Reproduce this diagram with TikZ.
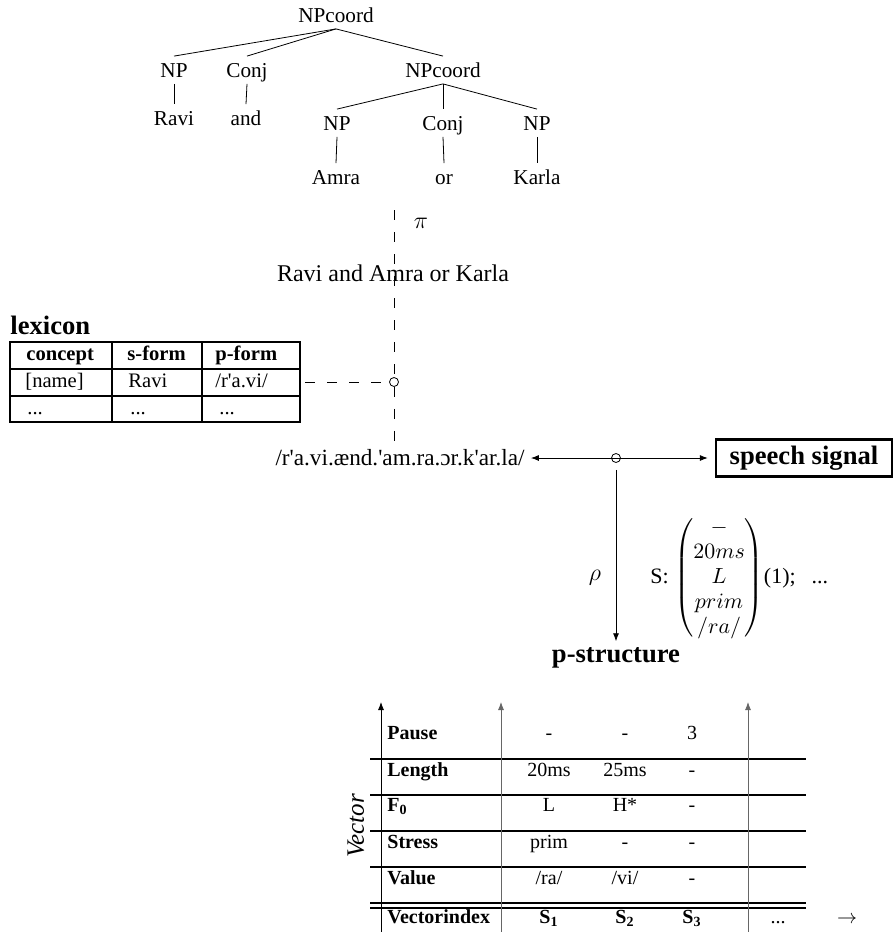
\documentclass[tikz,border=0pt]{standalone}
\usepackage{amsmath}
\usepackage{fontspec}
\setmainfont{Liberation Serif}
\newfontfamily\ipafont{Liberation Serif}[Ligatures=ResetAll]
\usetikzlibrary{arrows.meta,positioning}
\definecolor{Axis}{HTML}{666666}

\begin{document}
\begin{tikzpicture}[x=0.5pt,y=-0.5pt,
  cat/.style={inner xsep=1pt,inner ysep=3pt,text height=7.5pt,text depth=0pt,font=\fontsize{10.6}{12.7}\selectfont},
  txt/.style={inner sep=1pt,font=\fontsize{12}{14.4}\selectfont},
  head/.style={inner sep=1pt,font=\fontsize{13.3}{16}\selectfont\bfseries},
  cell/.style={anchor=west,inner sep=0pt,text height=7pt,text depth=2pt,font=\fontsize{10.3}{12.4}\selectfont},
  pcell/.style={inner sep=0pt,text height=7pt,text depth=2pt,font=\fontsize{10}{12}\selectfont},
  rule/.style={line width=1pt},
  link/.style={dash pattern=on 5pt off 6pt},
  arrow/.style={-{Latex[length=4pt,width=3pt]}},
  joint/.style={circle,draw,inner sep=0pt,minimum size=4.5pt}
]
\useasboundingbox (0,0) rectangle (894,932);

\node[cat] (top) at (336,15) {NPcoord};
\node[cat] (np1) at (174,70) {NP};
\node[cat] (cj1) at (247,70) {Conj};
\node[cat] (sub) at (443,70) {NPcoord};
\node[cat] (w1) at (174,118) {Ravi};
\node[cat] (w2) at (246,118) {and};
\node[cat] (np2) at (337,123) {NP};
\node[cat] (cj2) at (443,123) {Conj};
\node[cat] (np3) at (537,123) {NP};
\node[cat] (w3) at (336,177) {Amra};
\node[cat] (w4) at (444,177) {or};
\node[cat] (w5) at (537,177) {Karla};
\foreach \a/\b in {top/np1,top/cj1,top/sub,np1/w1,cj1/w2,sub/np2,sub/cj2,sub/np3,np2/w3,cj2/w4,np3/w5} {
  \draw (\a.south) -- (\b.north);
}

\coordinate (pitop) at (394,210);
\node[txt] (pi) at (421,223) {$\pi$};
\node[txt] (sform) at (393,273) {Ravi and Amra or Karla};
\node[joint] (lexjoint) at (394,382) {};
\node[txt,font=\fontsize{11.6}{14}\ipafont] (pform) at (400,458) {/r'a.vi.ænd.'am.ra.ɔr.k'ar.la/};
\draw[link] (pitop) -- (lexjoint) -- (lexjoint |- pform.north);

\node[head,anchor=west] (lexhead) at (8,325) {lexicon};
\draw[rule] (10,342) rectangle (300,422);
\draw[rule] (10,369) -- (300,369) (10,396) -- (300,396) (112,342) -- (112,422) (202,342) -- (202,422);
\node[cell,font=\fontsize{10.3}{12.4}\selectfont\bfseries] (h1) at (26,355) {concept};
\node[cell,font=\fontsize{10.3}{12.4}\selectfont\bfseries] (h2) at (127,355) {s-form};
\node[cell,font=\fontsize{10.3}{12.4}\selectfont\bfseries] (h3) at (215,355) {p-form};
\node[cell] (c1) at (25,382) {[name]};
\node[cell] (c2) at (128,382) {Ravi};
\node[cell,font=\fontsize{10.3}{12.4}\ipafont] (c3) at (215,382) {/r'a.vi/};
\node[cell] (d1) at (27,409) {...};
\node[cell] (d2) at (130,409) {...};
\node[cell] (d3) at (219,409) {...};
\coordinate (lexout) at (305,382);
\draw[link] (lexout) -- (lexjoint);

\node[joint] (sigjoint) at (616,458) {};
\node[draw,line width=1.2pt,head,minimum width=88pt,minimum height=18.5pt] (speech) at (804,458) {speech signal};
\draw[{Latex[length=4pt,width=3pt]}-{Latex[length=4pt,width=3pt]},shorten <=2pt,shorten >=3.5pt] (pform.east) -- (speech.west);
\node[head] (pstruct) at (616,658) {p-structure};
\draw[arrow,shorten <=3.5pt,shorten >=2pt] (sigjoint) -- (pstruct.north);
\node[txt] (rho) at (595,578) {$\rho$};
\node[txt,anchor=west,font=\fontsize{11}{12.5}\selectfont] (svec) at (648,578)
  {S: $\begin{pmatrix}-\\20ms\\L\\prim\\/ra/\end{pmatrix}$(1);\hspace{8pt}...};

\foreach \y in {759,795,831,867,903,908} {
  \draw[rule] (370,\y) -- (806,\y);
}
\draw[arrow] (381,932) -- (381,702);
\foreach \x in {501,748} {
  \draw[arrow,Axis] (\x,932) -- (\x,702);
}
\node[font=\fontsize{12.5}{15}\selectfont\itshape,rotate=90] (vec) at (356,826) {Vector};
\foreach \y/\t/\a/\b/\c [count=\r] in {734/Pause/-/-/3,771/Length/20ms/25ms/-,806/{$\mathbf{F_0}$}/L/H*/-,
    843/Stress/prim/-/-,879/Value/{/ra/}/{/vi/}/-,918/Vectorindex/{$\mathbf{S_1}$}/{$\mathbf{S_2}$}/{$\mathbf{S_3}$}} {
  \node[pcell,anchor=west,font=\fontsize{10}{12}\selectfont\bfseries] (row\r) at (387,\y) {\t};
  \node[pcell] (a\r) at (549,\y) {\a};
  \node[pcell] (b\r) at (625,\y) {\b};
  \node[pcell] (c\r) at (692,\y) {\c};
}
\node[pcell] (more) at (778,918) {...};
\node[pcell] (next) at (847,918) {$\rightarrow$};
\end{tikzpicture}
\end{document}
